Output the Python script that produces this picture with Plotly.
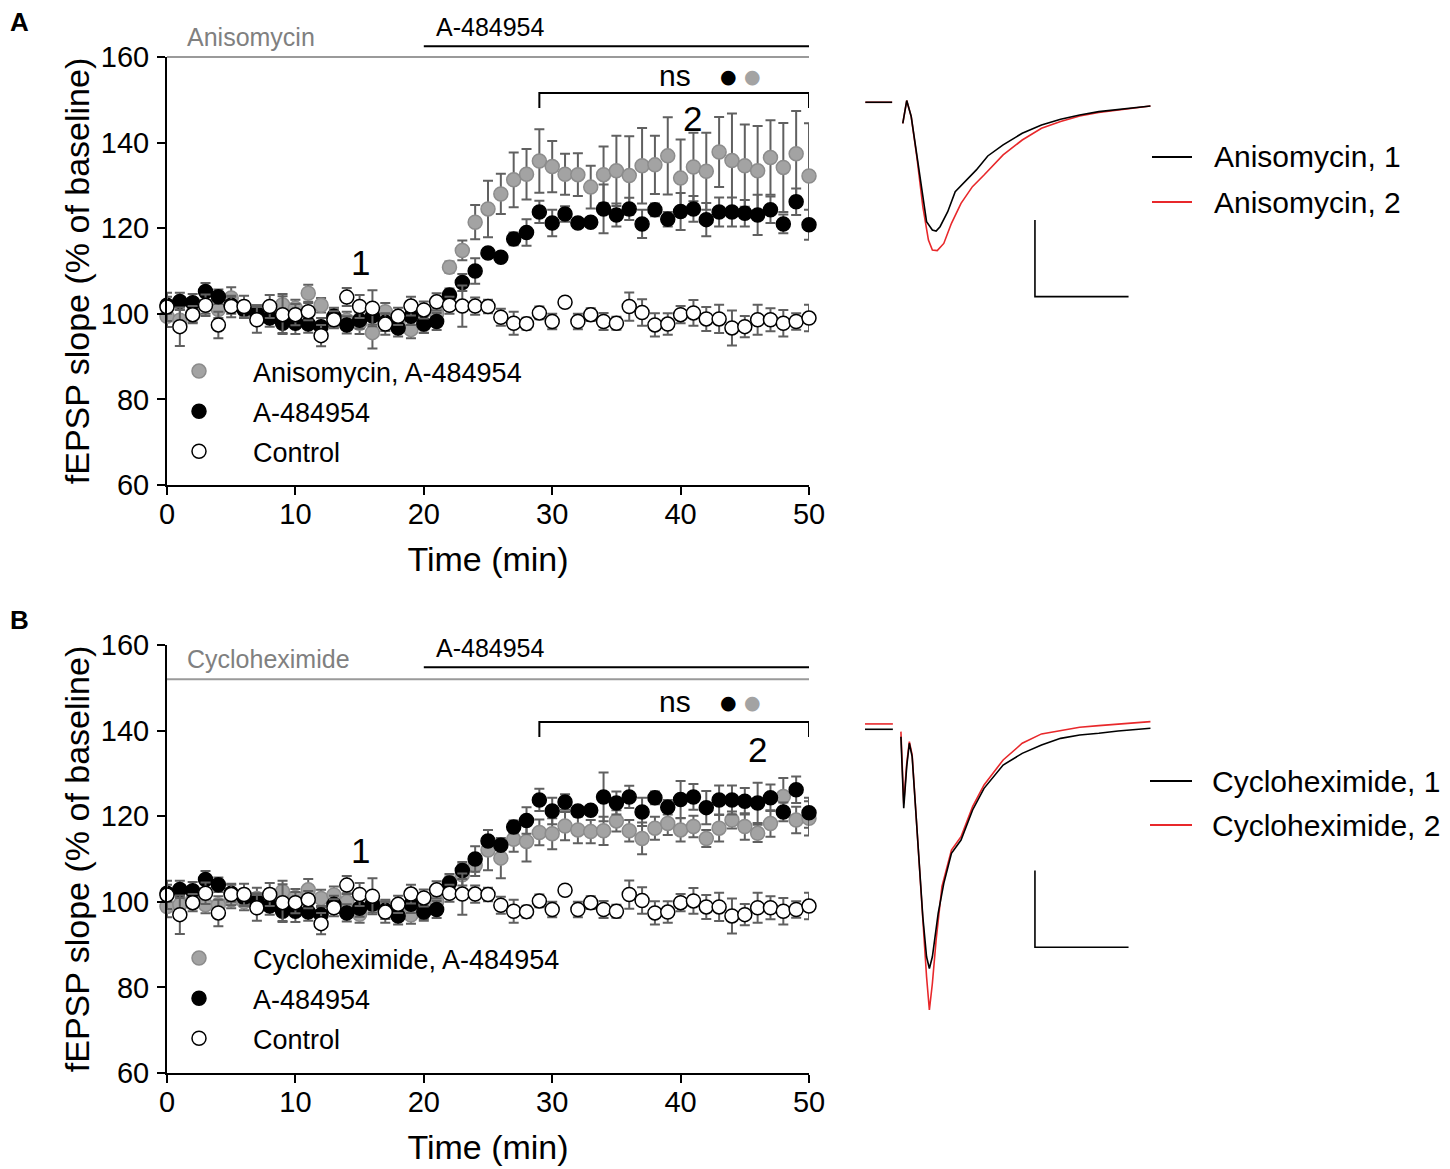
import plotly.graph_objects as go

# The page body adds an 8 px margin, so the figure is drawn 8 px smaller and
# all pixel positions below are given in screenshot coordinates.
OFF = 8
W, H = 1450 - OFF, 1169 - OFF
FONT = "Liberation Sans, Arial, sans-serif"

# ---- time course data (% of baseline), one point per minute ----
time_min = list(range(0, 51))

control = [101.6, 97.0, 99.8, 102.0, 97.4, 101.7, 101.7, 98.6, 101.7, 99.8,
           99.8, 100.5, 94.9, 98.6, 103.9, 101.7, 101.3, 97.6, 99.4, 101.8,
           100.9, 102.8, 102.0, 101.8, 101.8, 101.7, 99.2, 97.8, 97.7, 100.2,
           98.2, 102.7, 98.2, 99.8, 98.2, 97.8, 101.7, 100.3, 97.4, 97.6,
           99.8, 100.2, 98.8, 98.8, 96.7, 97.0, 98.6, 98.6, 97.8, 98.2, 99.0]
control_err = [3.3, 4.5, 2.0, 2.5, 3.1, 2.5, 2.5, 3.0, 2.7, 4.3,
               2.5, 2.0, 2.5, 2.0, 2.1, 2.7, 4.2, 2.5, 2.0, 2.2,
               2.0, 2.0, 2.0, 4.8, 2.0, 1.6, 2.0, 2.7, 1.4, 1.5,
               1.8, 0.5, 1.8, 1.5, 2.0, 1.5, 3.3, 3.1, 2.7, 2.5,
               2.0, 3.0, 2.8, 3.3, 4.1, 2.5, 3.5, 2.7, 3.1, 1.9, 3.1]

a484954 = [102.0, 102.9, 102.6, 105.2, 104.0, 102.0, 101.0, 100.0, 99.0, 97.8,
           97.8, 97.6, 97.0, 99.4, 97.4, 98.5, 99.5, 98.0, 96.7, 99.4,
           97.6, 98.2, 104.4, 107.3, 110.0, 114.2, 113.2, 117.5, 119.0, 123.8,
           121.2, 123.3, 121.2, 121.4, 124.5, 123.1, 124.5, 121.0, 124.3, 122.1,
           123.9, 124.5, 122.0, 123.8, 123.8, 123.5, 123.1, 124.3, 121.0, 126.2, 120.8]
a484954_err = [2.0, 2.0, 2.0, 2.0, 1.7, 2.0, 2.0, 2.0, 2.0, 2.5,
               2.5, 2.0, 2.0, 2.0, 2.0, 2.0, 2.0, 2.0, 2.0, 2.0,
               2.0, 2.0, 1.5, 2.0, 3.0, 1.0, 1.0, 1.5, 3.1, 2.6,
               3.1, 1.8, 1.0, 1.0, 5.7, 2.7, 2.6, 3.3, 1.5, 1.7,
               4.3, 3.0, 3.9, 3.4, 3.4, 3.1, 4.7, 3.1, 2.2, 3.1, 3.5]

aniso = [99.4, 98.5, 100.0, 102.0, 101.0, 103.7, 101.0, 100.0, 100.5, 102.1,
         101.3, 104.8, 102.0, 99.0, 98.5, 97.8, 95.6, 100.5, 98.0, 96.3,
         97.5, 100.0, 110.9, 114.8, 121.4, 124.5, 128.0, 131.3, 132.6, 135.7,
         134.4, 132.6, 132.5, 129.6, 132.5, 133.4, 132.3, 134.6, 134.8, 136.9,
         131.7, 134.3, 133.3, 137.8, 135.8, 134.6, 133.4, 136.5, 134.2, 137.4, 132.2]
aniso_err = [2.5, 2.5, 2.0, 2.0, 2.0, 2.5, 2.0, 2.0, 2.0, 2.5,
             2.0, 2.0, 1.7, 2.0, 2.0, 2.5, 3.7, 2.0, 2.0, 2.0,
             2.0, 2.0, 1.3, 2.3, 4.0, 6.6, 4.7, 6.4, 5.9, 7.4,
             6.0, 4.8, 5.0, 5.0, 6.6, 8.2, 9.2, 8.8, 6.8, 9.0,
             9.0, 8.0, 9.0, 8.2, 11.0, 9.6, 10.5, 8.7, 10.4, 10.0, 12.3]

chx = [98.9, 99.3, 100.5, 99.3, 99.3, 100.5, 100.0, 100.8, 101.0, 102.4,
       101.0, 102.8, 100.8, 101.6, 100.0, 97.1, 100.0, 98.5, 98.0, 96.9,
       98.0, 100.0, 104.5, 106.3, 108.5, 112.1, 110.2, 114.6, 114.1, 116.2,
       115.9, 117.7, 116.8, 116.4, 116.6, 118.9, 116.6, 114.8, 117.2, 118.3,
       116.8, 117.6, 114.8, 117.2, 119.1, 117.6, 116.0, 118.3, 124.6, 119.1, 119.5]
chx_err = [2.5, 2.0, 2.0, 2.0, 2.0, 2.0, 2.0, 2.5, 2.0, 2.5,
           2.0, 2.5, 2.0, 2.0, 2.0, 2.0, 2.0, 2.0, 2.0, 2.0,
           2.0, 2.0, 2.0, 2.5, 2.5, 4.7, 4.7, 2.9, 4.7, 3.0,
           3.6, 3.3, 3.1, 2.7, 3.3, 2.5, 2.5, 3.7, 2.7, 2.7,
           2.7, 2.5, 2.0, 3.1, 2.0, 3.1, 2.0, 3.1, 4.3, 3.1, 4.0]

# ---- example fEPSP traces (ms, mV); None = blanked stimulus ----
aniso1_t = [0.02, 1.45, None, 2.02, 2.23, 2.47, 2.78, 3.09, 3.29, 3.6, 3.8, 4.01, 4.42, 4.82,
            5.34, 5.95, 6.56, 7.38, 8.4, 9.43, 10.45, 11.47, 12.49, 13.52, 14.54, 15.25]
aniso1_v = [0.0, 0.0, None, -0.137, 0.011, -0.093, -0.354, -0.637, -0.778, -0.833, -0.84, -0.811,
            -0.713, -0.583, -0.517, -0.441, -0.35, -0.278, -0.202, -0.148, -0.111, -0.083,
            -0.061, -0.046, -0.033, -0.024]
aniso2_t = [0.02, 1.45, None, 2.02, 2.23, 2.47, 2.78, 3.09, 3.39, 3.6, 3.86, 4.21, 4.62, 5.13,
            5.74, 6.36, 7.38, 8.4, 9.43, 10.45, 11.47, 12.49, 13.52, 14.54, 15.25]
aniso2_v = [0.0, 0.0, None, -0.137, 0.011, -0.093, -0.365, -0.68, -0.898, -0.963, -0.967, -0.92,
            -0.789, -0.659, -0.55, -0.474, -0.343, -0.246, -0.17, -0.126, -0.089, -0.067,
            -0.05, -0.035, -0.024]
chx1_t = [0.0, 1.49, None, 1.92, 2.07, 2.23, 2.37, 2.52, 2.78, 3.09, 3.29, 3.44, 3.6, 3.91, 4.21,
          4.62, 5.13, 5.75, 6.36, 7.38, 8.4, 9.43, 10.45, 11.47, 12.49, 13.52, 15.25]
chx1_v = [0.0, 0.0, None, -0.048, -0.515, -0.243, -0.091, -0.178, -0.678, -1.222, -1.483, -1.559,
          -1.483, -1.2, -1.004, -0.809, -0.722, -0.526, -0.385, -0.233, -0.157, -0.102, -0.059,
          -0.037, -0.026, -0.011, 0.007]
chx2_t = [0.0, 1.49, None, 1.92, 2.07, 2.23, 2.37, 2.52, 2.78, 3.09, 3.29, 3.44, 3.6, 3.8, 4.11,
          4.62, 5.13, 5.75, 6.36, 7.38, 8.4, 9.43, 10.45, 11.47, 12.49, 13.52, 15.25]
chx2_v = [0.035, 0.035, None, -0.015, -0.483, -0.222, -0.08, -0.167, -0.678, -1.287, -1.613, -1.83,
          -1.657, -1.374, -1.026, -0.787, -0.7, -0.504, -0.363, -0.2, -0.091, -0.03, -0.009,
          0.013, 0.024, 0.033, 0.05]

scale_ms, scale_mv = 5, 0.5

GRAY = "#a3a3a3"
ERR = "#606060"
RED = "#e8282b"


def px_x(p):
    return (p - OFF) / W


def px_y(p):
    return 1 - (p - OFF) / H


X_DOM = [px_x(167), px_x(809)]
Y_DOM_A = [px_y(485), px_y(57)]
Y_DOM_B = [px_y(1073), px_y(645)]


def val_to_paper(v, dom):
    # y value (% of baseline) -> paper fraction, so marks above the axes are not clipped
    return dom[0] + (v - 60) / 100 * (dom[1] - dom[0])


fig = go.Figure()


def add_series(y, err, fill, line, name, xa, ya, legend):
    fig.add_trace(go.Scatter(
        x=time_min, y=y, mode="markers", name=name, xaxis=xa, yaxis=ya,
        legend=legend, legendgroup=legend + name, cliponaxis=False,
        marker=dict(size=14, color=fill, line=dict(color=line, width=1.5)),
        error_y=dict(type="data", array=err, color=ERR, thickness=2, width=5),
    ))


# panel A
add_series(aniso, aniso_err, GRAY, "#8c8c8c", "Anisomycin, A-484954", "x", "y", "legend")
add_series(a484954, a484954_err, "black", "black", "A-484954", "x", "y", "legend")
add_series(control, control_err, "white", "black", "Control", "x", "y", "legend")
# panel B
add_series(chx, chx_err, GRAY, "#8c8c8c", "Cycloheximide, A-484954", "x2", "y2", "legend2")
add_series(a484954, a484954_err, "black", "black", "A-484954", "x2", "y2", "legend2")
add_series(control, control_err, "white", "black", "Control", "x2", "y2", "legend2")


def add_traces(t1, v1, t2, v2, xa, ya, bar_v0):
    fig.add_trace(go.Scatter(x=t2, y=v2, mode="lines", showlegend=False, xaxis=xa, yaxis=ya,
                             line=dict(color=RED, width=1.6)))
    fig.add_trace(go.Scatter(x=t1, y=v1, mode="lines", showlegend=False, xaxis=xa, yaxis=ya,
                             line=dict(color="black", width=1.6)))
    t0 = 9.08
    fig.add_trace(go.Scatter(x=[t0, t0, t0 + scale_ms], y=[bar_v0 + scale_mv, bar_v0, bar_v0],
                             mode="lines", showlegend=False, xaxis=xa, yaxis=ya,
                             line=dict(color="black", width=1.6)))


add_traces(aniso1_t, aniso1_v, aniso2_t, aniso2_v, "x3", "y3", -1.267)
add_traces(chx1_t, chx1_v, chx2_t, chx2_v, "x4", "y4", -1.421)

tick_font = dict(size=29, color="black", family=FONT)
axis_common = dict(range=[0, 50], tickvals=[0, 10, 20, 30, 40, 50], showline=True,
                   linecolor="black", linewidth=2, ticks="outside", ticklen=8, tickwidth=2,
                   tickcolor="black", showgrid=False, zeroline=False, automargin=False,
                   tickfont=tick_font, ticklabelstandoff=-6)
yaxis_common = dict(range=[60, 160], tickvals=[60, 80, 100, 120, 140, 160], showline=True,
                    linecolor="black", linewidth=2, ticks="outside", ticklen=8, tickwidth=2,
                    tickcolor="black", showgrid=False, zeroline=False, automargin=False,
                    tickfont=tick_font, ticklabelstandoff=2)
hidden = dict(visible=False, showgrid=False, zeroline=False)

title_x = dict(text="Time (min)", font=dict(size=34, color="black", family=FONT), standoff=18)
title_y = dict(text="fEPSP slope (% of baseline)", font=dict(size=34, color="black", family=FONT),
               standoff=1)

legend_font = dict(size=27, color="black", family=FONT)

fig.update_layout(
    width=W, height=H, margin=dict(l=0, r=0, t=0, b=0, autoexpand=False),
    paper_bgcolor="white", plot_bgcolor="white",
    font=dict(family=FONT, color="black"),
    xaxis=dict(domain=X_DOM, anchor="y", title=title_x, **axis_common),
    yaxis=dict(domain=Y_DOM_A, anchor="x", title=title_y, **yaxis_common),
    xaxis2=dict(domain=X_DOM, anchor="y2", title=title_x, **axis_common),
    yaxis2=dict(domain=Y_DOM_B, anchor="x2", title=title_y, **yaxis_common),
    xaxis3=dict(domain=[px_x(850), px_x(1160)], range=[-0.80, 15.76], anchor="y3", **hidden),
    yaxis3=dict(domain=[px_y(310), px_y(90)], range=[-1.354, 0.080], anchor="x3", **hidden),
    xaxis4=dict(domain=[px_x(850), px_x(1160)], range=[-0.80, 15.76], anchor="y4", **hidden),
    yaxis4=dict(domain=[px_y(1020), px_y(700)], range=[-1.895, 0.191], anchor="x4", **hidden),
    legend=dict(x=px_x(145), y=px_y(347), xanchor="left", yanchor="top", font=legend_font,
                bgcolor="rgba(0,0,0,0)", itemwidth=98, tracegroupgap=2),
    legend2=dict(x=px_x(145), y=px_y(934), xanchor="left", yanchor="top", font=legend_font,
                 bgcolor="rgba(0,0,0,0)", itemwidth=98, tracegroupgap=2),
)


def text_at(xref, yref, x, y, text, size, color="black", xanchor="center", family=FONT):
    fig.add_annotation(xref=xref, yref=yref, x=x, y=y, text=text, showarrow=False,
                       xanchor=xanchor, yanchor="middle",
                       font=dict(size=size, color=color, family=family))


def panel_marks(xa, ya, dom, drug, drug_y, drug_line_y, a48_y, a48_line_y, ns_y, br_y, br_tip,
                two_x, two_y, one_y):
    # drug application bars (paper y so they are not clipped above the axes)
    fig.add_shape(type="line", xref=xa, yref="paper", x0=0, x1=50,
                  y0=val_to_paper(drug_line_y, dom), y1=val_to_paper(drug_line_y, dom),
                  line=dict(color="#9a9a9a", width=2))
    fig.add_shape(type="line", xref=xa, yref="paper", x0=20, x1=50,
                  y0=val_to_paper(a48_line_y, dom), y1=val_to_paper(a48_line_y, dom),
                  line=dict(color="black", width=2))
    # bracket over minutes 29-50
    fig.add_shape(type="path", xref=xa, yref=ya,
                  path=f"M 29 {br_tip} L 29 {br_y} L 50 {br_y} L 50 {br_tip}",
                  line=dict(color="black", width=2))
    text_at(xa, "paper", 1.4, val_to_paper(drug_y, dom), drug, 25, "#808080", "left")
    text_at(xa, "paper", 20.8, val_to_paper(a48_y, dom), "A-484954", 25, "black", "left")
    text_at(xa, ya, 39.6, ns_y, "ns", 30)
    text_at(xa, ya, 43.7, ns_y, "●", 19, "black", family="DejaVu Sans")
    text_at(xa, ya, 45.6, ns_y, "●", 19, GRAY, family="DejaVu Sans")
    text_at(xa, ya, two_x, two_y, "2", 35)
    text_at(xa, ya, 15.1, one_y, "1", 35)


panel_marks("x", "y", Y_DOM_A, "Anisomycin", 164.7, 160, 167.0, 162.5, 155.6, 151.6, 148.1,
            40.9, 145.7, 112.1)
panel_marks("x2", "y2", Y_DOM_B, "Cycloheximide", 156.7, 152, 159.3, 154.8, 146.7, 142.0, 138.5,
            46.0, 135.5, 111.9)


def trace_key(label, line_x0, line_x1, text_x, py_1, py_2):
    for suffix, color, py in ((", 1", "black", py_1), (", 2", RED, py_2)):
        fig.add_shape(type="line", xref="paper", yref="paper", x0=px_x(line_x0), x1=px_x(line_x1),
                      y0=px_y(py), y1=px_y(py), line=dict(color=color, width=1.8))
        text_at("paper", "paper", px_x(text_x), px_y(py), label + suffix, 30, "black", "left")


trace_key("Anisomycin", 1152, 1192, 1212, 157, 202)
trace_key("Cycloheximide", 1150, 1192, 1210, 781, 825)

for letter, py in (("A", 22), ("B", 620)):
    text_at("paper", "paper", px_x(19), px_y(py), f"<b>{letter}</b>", 26)

fig.write_html("out.html")
